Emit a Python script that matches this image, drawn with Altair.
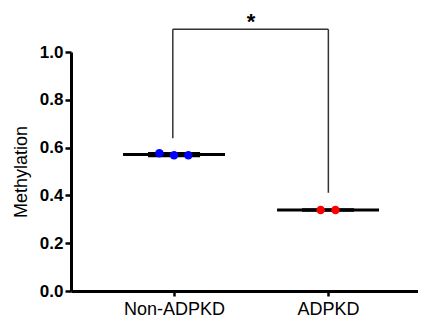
import altair as alt
import pandas as pd

groups = ["Non-ADPKD", "ADPKD"]
group_pos = [1, 2]
colors = ["#0000ff", "#ff0000"]

nonadpkd_values = [0.576, 0.568, 0.568]
nonadpkd_jitter = [-0.095, 0.0, 0.093]
adpkd_values = [0.339, 0.339]
adpkd_jitter = [-0.048, 0.048]

bracket_top = 1.095
bracket_bottoms = [0.639, 0.411]
sig_label = "*"

rows = []
for v, j in zip(nonadpkd_values, nonadpkd_jitter):
    rows.append({"group": groups[0], "x": group_pos[0] + j, "y": v})
for v, j in zip(adpkd_values, adpkd_jitter):
    rows.append({"group": groups[1], "x": group_pos[1] + j, "y": v})
pts = pd.DataFrame(rows)

summ = []
for g, p, vals in zip(groups, group_pos, [nonadpkd_values, adpkd_values]):
    s = pd.Series(vals)
    m = s.mean()
    sd = s.std() if len(s) > 1 else 0.0
    summ.append({"group": g, "xl": p - 0.331, "xr": p + 0.331, "cl": p - 0.169, "cr": p + 0.169,
                 "mean": m, "lo": m - sd, "hi": m + sd})
summ = pd.DataFrame(summ)

legs = pd.DataFrame({"x": [group_pos[0] - 0.008, group_pos[1] + 0.002],
                     "y": bracket_bottoms, "y2": [bracket_top, bracket_top]})
top = pd.DataFrame({"x": [legs["x"][0]], "x2": [legs["x"][1]], "y": [bracket_top]})
star = pd.DataFrame({"x": [(group_pos[0] + group_pos[1]) / 2], "y": [bracket_top], "t": [sig_label]})

label_expr = "datum.value == 1 ? '%s' : '%s'" % (groups[0], groups[1])

xs = alt.Scale(domain=[0.331, 2.584], nice=False, zero=False)
ys = alt.Scale(domain=[0, 1], nice=False)

xaxis = alt.Axis(values=group_pos, labelExpr=label_expr, title=None, grid=False,
                 domainWidth=3, domainColor="black", tickWidth=2.5, tickColor="black",
                 tickSize=5, labelFontSize=18, labelColor="black", labelPadding=4,
                 labelFont="Liberation Sans")
yaxis = alt.Axis(values=[0, 0.2, 0.4, 0.6, 0.8, 1.0], format=".1f", title="Methylation",
                 grid=False, domainWidth=3, domainColor="black", tickWidth=2.5, tickColor="black",
                 tickSize=6, labelFontSize=17, labelFontWeight="bold", labelColor="black",
                 labelPadding=2, labelFont="Liberation Sans", titleFont="Liberation Sans",
                 titleFontSize=18, titleFontWeight="normal", titleColor="black", titlePadding=9)

base_pts = alt.Chart(pts).mark_circle(size=72, opacity=1).encode(
    x=alt.X("x:Q", scale=xs, axis=xaxis),
    y=alt.Y("y:Q", scale=ys, axis=yaxis),
    color=alt.Color("group:N", scale=alt.Scale(domain=groups, range=colors), legend=None),
)

mean_line = alt.Chart(summ).mark_rule(strokeWidth=3, color="black").encode(
    x="xl:Q", x2="xr:Q", y="mean:Q")
cap_lo = alt.Chart(summ).mark_rule(strokeWidth=3, color="black").encode(
    x="cl:Q", x2="cr:Q", y="lo:Q")
cap_hi = alt.Chart(summ).mark_rule(strokeWidth=3, color="black").encode(
    x="cl:Q", x2="cr:Q", y="hi:Q")

leg_rules = alt.Chart(legs).mark_rule(strokeWidth=1.5, color="#333333", clip=False).encode(
    x="x:Q", y="y:Q", y2="y2:Q")
top_rule = alt.Chart(top).mark_rule(strokeWidth=1.5, color="#333333", clip=False).encode(
    x="x:Q", x2="x2:Q", y="y:Q")
star_text = alt.Chart(star).mark_text(fontSize=22, fontWeight="bold", dy=-7, baseline="middle",
                                      font="Liberation Sans", color="black").encode(
    x="x:Q", y="y:Q", text="t:N")

chart = alt.layer(leg_rules, top_rule, star_text, mean_line, cap_lo, cap_hi, base_pts).properties(
    width=347, height=239,
    autosize=alt.AutoSizeParams(type="none"),
    padding={"left": 63, "top": 44, "right": 0, "bottom": 30},
).configure_view(stroke=None)

chart.save("out.html", embed_options={"renderer": "svg", "actions": False})
